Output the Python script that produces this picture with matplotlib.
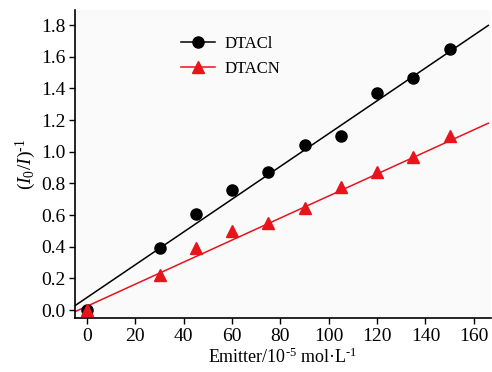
import matplotlib
matplotlib.use("Agg")
import matplotlib.pyplot as plt
import numpy as np

plt.rcParams['font.family'] = ['Liberation Serif', 'DejaVu Serif']
plt.rcParams['mathtext.fontset'] = 'custom'
plt.rcParams['mathtext.rm'] = 'Liberation Serif'
plt.rcParams['mathtext.it'] = 'Liberation Serif:italic'

emitter = [0, 30, 45, 60, 75, 90, 105, 120, 135, 150]
dtacl = [0.0, 0.39, 0.61, 0.76, 0.875, 1.04, 1.10, 1.37, 1.465, 1.65]
dtacn = [0.0, 0.22, 0.39, 0.50, 0.55, 0.645, 0.775, 0.875, 0.965, 1.10]
# linear fits (slope, intercept) as drawn in the reference
fit_dtacl = (0.01035, 0.080)
fit_dtacn = (0.00696, 0.025)
xticks = [0, 20, 40, 60, 80, 100, 120, 140, 160]
yticks = [0.0, 0.2, 0.4, 0.6, 0.8, 1.0, 1.2, 1.4, 1.6, 1.8]

fig = plt.figure(figsize=(4.92, 3.72), dpi=100)
ax = fig.add_axes([0.1524, 0.145, 0.845, 0.828])
ax.set_facecolor('#fafafa')

xl = np.array([-5, 166])
for y, fit, c, m, lab in [(dtacl, fit_dtacl, 'black', 'o', 'DTACl'),
                          (dtacn, fit_dtacn, '#e8141c', '^', 'DTACN')]:
    k, b = fit
    ax.plot(xl, k * xl + b, color=c, lw=1.1, zorder=2)
    ax.plot(emitter, y, linestyle='none', marker=m, color=c, markersize=8, zorder=3)
    ax.plot([], [], color=c, lw=1.1, marker=m, markersize=8, label=lab)

ax.set_xlim(-5, 167)
ax.set_ylim(-0.05, 1.895)
ax.set_xticks(xticks)
ax.set_yticks(yticks)
ax.set_yticklabels([f"{v:.1f}" for v in yticks])
ax.tick_params(labelsize=14, direction='out', length=4, width=1, pad=3)
for s in ['top', 'right']:
    ax.spines[s].set_visible(False)
for s in ['left', 'bottom']:
    ax.spines[s].set_linewidth(1.2)

ax.set_xlabel('Emitter/10$^{\\mathrm{\u20105}}$ mol·L$^{\\mathrm{\u20101}}$', fontsize=13, labelpad=2)
ax.set_ylabel('($I_0$/$I$)$^{\\mathrm{\u20101}}$', fontsize=14, labelpad=2)
ax.legend(loc='upper left', bbox_to_anchor=(0.22, 0.965), frameon=False, fontsize=12,
          handlelength=2.0, handletextpad=0.6, labelspacing=0.55)

fig.savefig('out.png', dpi=100)
